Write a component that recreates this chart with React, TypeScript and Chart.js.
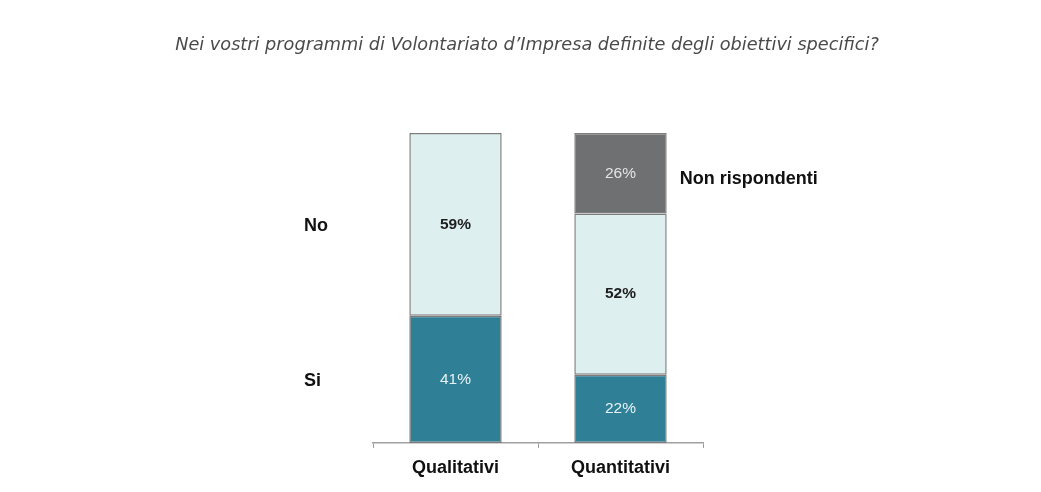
import React, { useEffect, useRef } from "react";
import { Chart, registerables } from "chart.js";

Chart.register(...registerables);

const categories = ["Qualitativi", "Quantitativi"];
const seriesNames = ["Si", "No", "Non rispondenti"];
const siValues = [41, 22];
const noValues = [59, 52];
const nrValues = [0, 26];
const titleText = "Nei vostri programmi di Volontariato d\u2019Impresa definite degli obiettivi specifici?";

const COLORS = ["#2f7f97", "#deeff0", "#6e7072"];
const LABEL_COLORS = ["#e6f3f5", "#1e1e1e", "#e4e4e4"];
const LABEL_WEIGHTS = ["normal", "bold", "normal"];
const SANS = "'Liberation Sans', Arial, sans-serif";

const labelsPlugin = {
  id: "segLabels",
  afterDatasetsDraw(chart: any) {
    const ctx = chart.ctx;
    const area = chart.chartArea;
    ctx.save();
    // title
    ctx.font = "italic 17.7px 'DejaVu Sans', sans-serif";
    ctx.fillStyle = "#4a4a4a";
    ctx.textAlign = "center";
    ctx.textBaseline = "middle";
    ctx.fillText(titleText, 527, 45);

    chart.data.datasets.forEach((ds: any, di: number) => {
      const meta = chart.getDatasetMeta(di);
      meta.data.forEach((bar: any, i: number) => {
        const v = ds.data[i];
        if (!v) return;
        const cy = (bar.y + bar.base) / 2;
        ctx.font = LABEL_WEIGHTS[di] + " 15.5px " + SANS;
        ctx.fillStyle = LABEL_COLORS[di];
        ctx.textAlign = "center";
        ctx.textBaseline = "middle";
        ctx.fillText(v + "%", bar.x, cy);
      });
      ctx.font = "bold 18px " + SANS;
      ctx.fillStyle = "#111";
      ctx.textBaseline = "middle";
      ctx.textAlign = "left";
      if (di < 2) {
        const bar = meta.data[0];
        const cy = (bar.y + bar.base) / 2 + 2;
        ctx.fillText(ds.label, area.left - 69, cy);
      } else {
        const bar = meta.data[meta.data.length - 1];
        const cy = (bar.y + bar.base) / 2 + 6;
        ctx.fillText(ds.label, bar.x + bar.width / 2 + 13, cy);
      }
    });
    ctx.restore();
  },
};

export default function App() {
  const ref = useRef<HTMLCanvasElement>(null);
  useEffect(() => {
    if (!ref.current) return;
    const values = [siValues, noValues, nrValues];
    const chart = new Chart(ref.current, {
      type: "bar",
      data: {
        labels: categories,
        datasets: seriesNames.map((name, i) => ({
          label: name,
          data: values[i],
          backgroundColor: COLORS[i],
          borderColor: "#7d7d7d",
          borderWidth: 1.5,
          borderSkipped: false,
          categoryPercentage: 1,
          barPercentage: 0.56,
        })),
      },
      options: {
        animation: false,
        responsive: false,
        maintainAspectRatio: false,
        layout: { padding: { left: 373, right: 338, top: 133, bottom: 3.5 } },
        plugins: {
          legend: { display: false },
          tooltip: { enabled: false },
          title: { display: false },
        },
        scales: {
          x: {
            stacked: true,
            grid: { offset: true, drawOnChartArea: false, drawTicks: true, tickLength: 5, color: "#999" },
            border: { color: "#a0a0a0", width: 1.5 },
            ticks: { color: "#111", padding: 9.5, font: { family: SANS, size: 18, weight: "bold" } },
          },
          y: { stacked: true, display: false, min: 0, max: 100 },
        },
      },
      plugins: [labelsPlugin],
    });
    return () => chart.destroy();
  }, []);
  return (
    <div style={{ position: "fixed", left: 0, top: 0, width: 1041, height: 492, background: "#fff" }}>
      <canvas ref={ref} width={1041} height={492} style={{ width: 1041, height: 492 }} />
    </div>
  );
}
